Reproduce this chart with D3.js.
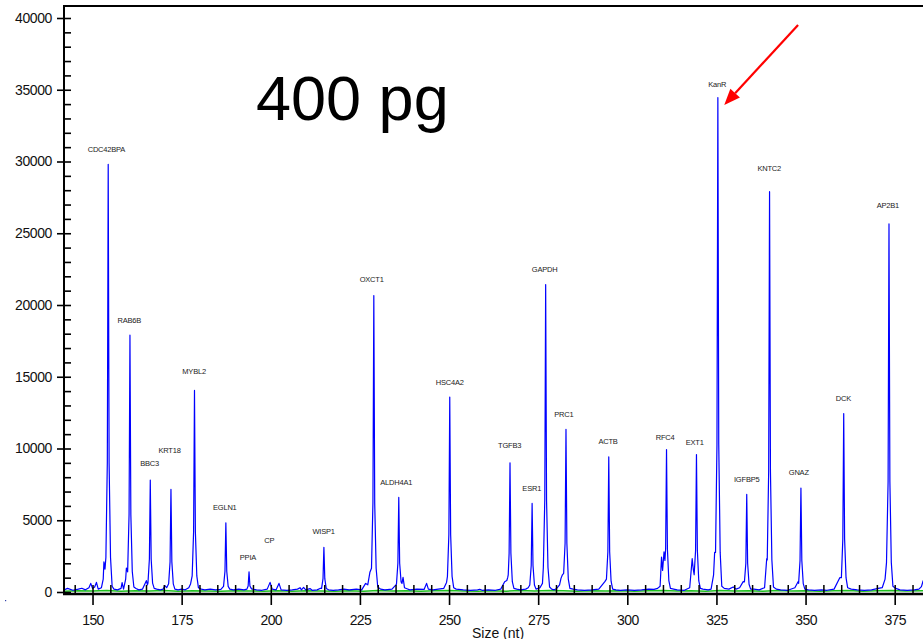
<!DOCTYPE html>
<html>
<head>
<meta charset="utf-8">
<script src="https://cdn.jsdelivr.net/npm/d3@7"></script>
<style>
  body { margin: 0; background: #fff; }
  svg { display: block; font-family: Arial, "Liberation Sans", sans-serif; }
</style>
</head>
<body>
<div id="chart"></div>
<script>
const width = 923;
const height = 639;

// x axis (size in nt) and y axis (fluorescence) ticks
const xMajorTicks = [150, 175, 200, 225, 250, 275, 300, 325, 350, 375];
const yMajorTicks = [0, 5000, 10000, 15000, 20000, 25000, 30000, 35000, 40000];

// peak labels: name, size (nt) where the label sits, level of the label
const peakNames = ['CDC42BPA', 'RAB6B', 'BBC3', 'KRT18', 'MYBL2', 'EGLN1', 'PPIA', 'CP', 'WISP1',
  'OXCT1', 'ALDH4A1', 'HSC4A2', 'TGFB3', 'ESR1', 'GAPDH', 'PRC1', 'ACTB', 'RFC4', 'EXT1',
  'KanR', 'IGFBP5', 'KNTC2', 'GNAZ', 'DCK', 'AP2B1'];
const labelSizes = [153.9, 160.3, 166.0, 171.6, 178.5, 187.1, 193.6, 199.6, 214.8,
  228.3, 235.2, 250.2, 267.0, 273.2, 276.8, 282.2, 294.6, 310.6, 318.9,
  325.2, 333.5, 339.8, 348.1, 360.6, 373.1];
const labelLevels = [30850, 18950, 8950, 9900, 15350, 5900, 2420, 3570, 4250,
  21780, 7630, 14610, 10190, 7190, 22450, 12360, 10470, 10800, 10430,
  35390, 7880, 29550, 8330, 13500, 26950];

// blue trace: [size, rfu]
const blueTrace = [
  [142.0, 150], [143.0, 250], [144.5, 120], [146.0, 200], [147.0, 260], [148.0, 150], [149.0, 300],
  [149.5, 600], [150.0, 250], [150.6, 350], [151.1, 670], [151.6, 200], [152.5, 300], [153.0, 900],
  [153.2, 2100], [153.5, 1600], [153.75, 2400], [154.15, 9000], [154.4, 29800], [154.65, 9000],
  [155.05, 2400], [155.5, 400],
  [156.0, 200], [157.0, 150], [158.0, 250], [158.3, 650], [158.7, 200], [159.3, 900], [159.5, 1670],
  [159.85, 1400], [160.25, 5400], [160.5, 17900], [160.75, 5400], [161.15, 1430], [161.6, 350],
  [162.2, 250], [163.0, 150], [164.0, 200], [165.1, 790], [165.4, 500], [165.55, 620], [165.95, 2300],
  [166.2, 7800], [166.45, 2300], [166.85, 620], [167.3, 250],
  [168.0, 200], [169.0, 150], [169.8, 200], [170.3, 440], [170.8, 300], [171.35, 570], [171.75, 2100],
  [172.0, 7150], [172.25, 2100], [172.65, 570], [173.1, 200], [174.0, 150], [175.0, 200], [176.0, 150],
  [177.0, 300], [177.5, 560], [177.95, 1120], [178.35, 4200], [178.6, 14050], [178.85, 4200],
  [179.25, 1120], [179.7, 300],
  [180.5, 200], [181.5, 150], [183.0, 200], [184.5, 150], [186.0, 180], [186.75, 390], [187.15, 1450],
  [187.4, 4820], [187.65, 1450], [188.05, 390], [188.5, 200], [189.5, 150], [191.0, 200], [192.5, 150],
  [193.3, 200], [193.65, 420], [193.9, 1410], [194.15, 420], [194.6, 220], [196.0, 150], [197.5, 120],
  [199.0, 200], [199.8, 670], [200.4, 200], [201.5, 150], [202.3, 600], [202.9, 150], [204.5, 120],
  [206.0, 150], [207.5, 200], [208.2, 300], [208.6, 150], [209.2, 320], [209.8, 150], [211.0, 240],
  [211.6, 120], [213.0, 150], [213.8, 250], [214.25, 250], [214.65, 930], [214.9, 3110], [215.15, 930],
  [215.55, 250], [216.2, 150], [217.5, 120], [219.0, 150], [220.5, 200],
  [222.0, 150], [224.0, 200], [225.5, 150], [226.6, 600], [227.2, 500], [227.8, 1370], [228.25, 1650],
  [228.65, 6200], [228.9, 20660], [229.15, 6200], [229.55, 1650], [230.0, 350], [230.8, 200],
  [232.0, 150], [234.0, 200], [235.1, 500], [235.25, 530], [235.65, 2000], [235.9, 6590], [236.15, 2000],
  [236.55, 700], [236.8, 600], [237.1, 1020], [237.5, 300], [238.2, 230], [239.0, 150], [241.0, 200],
  [243.0, 180], [243.7, 600], [244.2, 200], [245.5, 150], [247.0, 200], [248.5, 250], [249.3, 670],
  [249.55, 1090], [249.95, 4000], [250.2, 13590], [250.45, 4000], [250.85, 1090], [251.3, 300],
  [252.0, 200], [254.0, 150], [256.0, 120], [258.0, 150], [258.6, 190],
  [259.3, 120], [261.0, 150], [263.0, 120], [264.5, 200], [265.6, 720], [266.2, 800], [266.45, 1000],
  [266.6, 1200], [266.85, 2700], [267.1, 9000], [267.35, 2700], [267.75, 720], [268.2, 250],
  [269.0, 200], [270.0, 150], [271.5, 200], [272.2, 300], [272.65, 490], [273.05, 1850], [273.3, 6170],
  [273.55, 1850], [273.95, 490], [274.4, 200], [275.5, 300], [276.2, 600], [276.45, 1710],
  [276.85, 6400], [277.1, 21430], [277.35, 6400], [277.75, 1710], [278.2, 350], [278.8, 200],
  [279.5, 150], [280.2, 250], [281.0, 500], [281.4, 950], [281.8, 1200], [282.15, 1300], [282.55, 3400],
  [282.8, 11340], [283.05, 3400], [283.45, 900], [283.9, 250],
  [284.8, 200], [286.0, 150], [288.0, 120], [290.0, 150], [292.0, 200], [293.7, 720],
  [294.15, 900], [294.55, 2800], [294.8, 9410], [295.05, 2800], [295.45, 750], [295.9, 200],
  [296.8, 150], [298.0, 120], [300.0, 150], [302.0, 120], [304.0, 150], [306.0, 200], [307.5, 180],
  [308.5, 250], [309.2, 400], [309.6, 2430], [309.9, 1500], [310.3, 2800], [310.55, 2200],
  [310.75, 3000], [311.0, 9930], [311.25, 3000], [311.65, 800], [312.1, 250],
  [313.0, 200], [314.0, 150], [316.0, 120], [317.5, 300], [318.2, 2320], [318.5, 1600], [318.75, 1200],
  [319.15, 2900], [319.4, 9580], [319.65, 2900], [320.05, 770], [320.5, 250], [321.2, 200],
  [322.7, 150], [323.5, 200], [324.2, 1200], [324.5, 2760], [324.75, 2760], [325.15, 10300],
  [325.4, 34460], [325.65, 10300], [326.05, 2760], [326.5, 400], [327.2, 250], [328.5, 200],
  [329.7, 350], [330.5, 200], [331.5, 300], [332.5, 720], [332.85, 700], [333.25, 2000], [333.5, 6800],
  [333.75, 2000], [334.15, 540], [334.6, 200], [335.5, 200], [337.0, 150], [338.5, 300],
  [339.1, 2320], [339.25, 2230], [339.65, 8400], [339.9, 27900], [340.15, 8400], [340.55, 2230],
  [341.0, 350], [341.8, 200], [343.0, 150], [345.0, 120], [347.0, 300], [347.9, 720], [348.05, 600],
  [348.45, 2200], [348.7, 7240], [348.95, 2200], [349.35, 580], [349.8, 200], [350.8, 150],
  [352.5, 120], [354.5, 150], [356.0, 120], [358.0, 200], [359.6, 1000], [360.05, 1000],
  [360.45, 3700], [360.7, 12430], [360.95, 3700], [361.35, 1000], [361.8, 300], [362.8, 200],
  [364.5, 150], [366.5, 120], [368.5, 150], [370.4, 250], [371.5, 300], [372.3, 900], [372.7, 2050],
  [373.15, 7700], [373.4, 25650], [373.65, 7700], [374.05, 2050], [374.5, 400], [375.3, 250],
  [376.5, 150], [378.5, 120], [380.5, 150], [381.8, 200], [382.5, 370], [383.0, 800]
];

// green trace: [size, rfu]
const greenTrace = [
  [142, 60], [146, 90], [150, 70], [154, 110], [158, 60], [162, 90], [166, 70], [170, 100],
  [174, 60], [178, 90], [182, 70], [186, 60], [190, 90], [194, 70], [198, 60], [202, 80],
  [206, 60], [210, 90], [214, 70], [218, 60], [222, 80], [226, 60], [230, 110], [234, 70],
  [238, 90], [242, 60], [246, 80], [250, 100], [254, 70], [258, 60], [262, 80], [266, 60],
  [270, 100], [274, 70], [278, 110], [282, 80], [286, 60], [290, 80], [294, 70], [298, 90],
  [302, 60], [306, 80], [310, 110], [314, 70], [318, 90], [322, 60], [326, 100], [330, 70],
  [334, 90], [338, 60], [342, 100], [346, 70], [350, 90], [354, 60], [358, 80], [362, 100],
  [366, 60], [370, 80], [374, 100], [378, 70], [383, 80]
];

// the arrow, from its tail to its head, in size / rfu
const arrowFrom = [347.9, 39510];
const arrowTo = [327.2, 33940];

const sizeRange = [142, 383.5];
const rfuRange = [0, 40000];

function makeChart() {
  const svg = d3.select('#chart').append('svg')
    .attr('width', width)
    .attr('height', height);

  const xScale = d3.scaleLinear().domain(sizeRange).range([64, 925]);
  const yScale = d3.scaleLinear().domain(rfuRange).range([592, 18]);

  svg.append('defs').append('clipPath').attr('id', 'plot')
    .append('rect').attr('x', 64).attr('y', 0).attr('width', width - 64).attr('height', 594);

  const line = d3.line()
    .x(d => xScale(d[0]))
    .y(d => yScale(d[1]));

  const traces = svg.append('g').attr('clip-path', 'url(#plot)');

  traces.append('path').datum(greenTrace)
    .attr('d', line)
    .attr('fill', 'none')
    .attr('stroke', '#1fbf1f')
    .attr('stroke-width', 1.5);

  traces.append('path').datum(blueTrace)
    .attr('d', line)
    .attr('fill', 'none')
    .attr('stroke', '#0000ff')
    .attr('stroke-width', 1.2)
    .attr('stroke-linejoin', 'round');

  // y axis: labelled majors going out, every 1000 going in
  svg.append('g')
    .attr('transform', 'translate(64,0)')
    .call(d3.axisLeft(yScale).tickValues(yMajorTicks).tickSize(7).tickPadding(5).tickFormat(d3.format('d')))
    .call(g => g.select('.domain').remove())
    .call(g => g.selectAll('line').attr('stroke', '#000').attr('stroke-width', 1.6))
    .call(g => g.selectAll('text').attr('font-size', 14).attr('fill', '#111')
      .attr('font-family', 'Arial, "Liberation Sans", sans-serif').attr('letter-spacing', '-0.4px'));

  svg.append('g')
    .attr('transform', 'translate(64,0)')
    .call(d3.axisRight(yScale).tickValues(d3.range(0, 40001, 1000)).tickSize(7).tickFormat(''))
    .call(g => g.select('.domain').remove())
    .call(g => g.selectAll('line').attr('stroke', '#000').attr('stroke-width', 1.6));

  // x axis: majors go down (and up), every 5 nt go up
  svg.append('g')
    .attr('transform', 'translate(0,594)')
    .call(d3.axisBottom(xScale).tickValues(xMajorTicks).tickSize(11).tickPadding(10))
    .call(g => g.select('.domain').remove())
    .call(g => g.selectAll('line').attr('stroke', '#000').attr('stroke-width', 1.6))
    .call(g => g.selectAll('text').attr('font-size', 14).attr('fill', '#111')
      .attr('font-family', 'Arial, "Liberation Sans", sans-serif').attr('letter-spacing', '-0.6px'));

  svg.append('g')
    .attr('transform', 'translate(0,594)')
    .call(d3.axisTop(xScale).tickValues(d3.range(145, 384, 5)).tickSize(9).tickFormat(''))
    .call(g => g.select('.domain').remove())
    .call(g => g.selectAll('line').attr('stroke', '#000').attr('stroke-width', 1.5));

  // frame lines
  svg.append('line').attr('x1', 64).attr('x2', 64).attr('y1', 5).attr('y2', 595)
    .attr('stroke', '#000').attr('stroke-width', 2);
  svg.append('line').attr('x1', 63).attr('x2', width).attr('y1', 594).attr('y2', 594)
    .attr('stroke', '#000').attr('stroke-width', 2.4);
  svg.append('line').attr('x1', 63).attr('x2', width).attr('y1', 6).attr('y2', 6)
    .attr('stroke', '#000').attr('stroke-width', 2);

  // peak names
  svg.append('g').selectAll('text').data(peakNames)
    .enter().append('text')
    .attr('x', (d, i) => xScale(labelSizes[i]))
    .attr('y', (d, i) => yScale(labelLevels[i]))
    .attr('text-anchor', 'middle')
    .attr('dy', '0.35em')
    .attr('font-size', 7.5)
    .attr('letter-spacing', '-0.2px')
    .attr('fill', '#222')
    .text(d => d);

  // sample amount
  svg.append('text')
    .attr('x', 256).attr('y', 119.5)
    .attr('font-size', 63)
    .attr('fill', '#000')
    .text('400 pg');

  // axis title, mostly below the picture
  svg.append('text')
    .attr('x', 498).attr('y', 638)
    .attr('text-anchor', 'middle')
    .attr('font-size', 14)
    .attr('fill', '#111')
    .text('Size (nt)');

  // red arrow pointing at KanR
  const x1 = xScale(arrowFrom[0]), y1 = yScale(arrowFrom[1]);
  const x2 = xScale(arrowTo[0]), y2 = yScale(arrowTo[1]);
  const ang = Math.atan2(y2 - y1, x2 - x1);
  const headLen = 16, headHalf = 6.5;
  const bx = x2 - headLen * Math.cos(ang), by = y2 - headLen * Math.sin(ang);
  svg.append('line')
    .attr('x1', x1).attr('y1', y1).attr('x2', bx).attr('y2', by)
    .attr('stroke', '#ff0000').attr('stroke-width', 2.2);
  svg.append('path')
    .attr('d', `M${x2},${y2} L${bx - headHalf * Math.sin(ang)},${by + headHalf * Math.cos(ang)} L${bx + headHalf * Math.sin(ang)},${by - headHalf * Math.cos(ang)} Z`)
    .attr('fill', '#ff0000');

  // stray dot at the lower left
  svg.append('rect').attr('x', 5).attr('y', 600).attr('width', 1.2).attr('height', 1.2).attr('fill', '#3344aa');
}

makeChart();
</script>
</body>
</html>
